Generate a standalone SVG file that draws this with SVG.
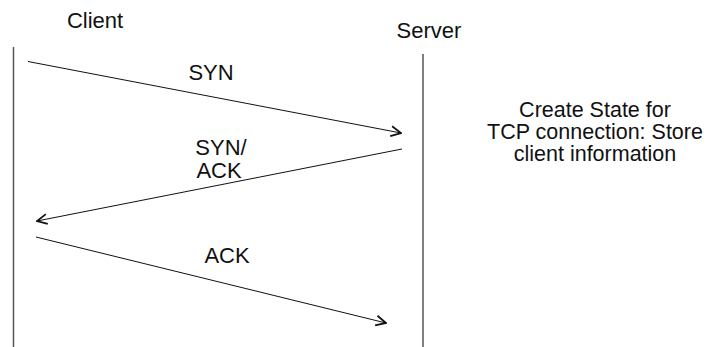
<svg xmlns="http://www.w3.org/2000/svg" width="709" height="347" viewBox="0 0 709 347">
  <style>
    text { font-family: "Liberation Sans", Arial, sans-serif; font-size: 22px; fill: #111; }
    .note { font-size: 21.5px; }
    .life { stroke: #555; stroke-width: 1.5; fill: none; }
    .msg { stroke: #111; stroke-width: 1; fill: none; marker-end: url(#open); }
  </style>
  <defs>
    <marker id="open" viewBox="0 0 12 12" refX="11" refY="6" markerWidth="12" markerHeight="12" markerUnits="userSpaceOnUse" orient="auto">
      <path d="M1,1 L11,6 L1,11" fill="none" stroke="#111" stroke-width="1.8"/>
    </marker>
  </defs>

  <g id="client">
    <text x="95" y="28" text-anchor="middle">Client</text>
    <line class="life" x1="13.5" y1="47" x2="13.5" y2="347"/>
  </g>

  <g id="server">
    <text x="429" y="38" text-anchor="middle">Server</text>
    <line class="life" x1="423" y1="54" x2="423" y2="347"/>
  </g>

  <g id="server-note">
    <text class="note" x="595" y="117" text-anchor="middle">Create State for</text>
    <text class="note" x="595" y="139" text-anchor="middle">TCP connection: Store</text>
    <text class="note" x="595" y="160.5" text-anchor="middle">client information</text>
  </g>

  <g id="connectors">
    <line class="msg" x1="28" y1="61.5" x2="401" y2="133"/>
    <line class="msg" x1="402" y1="149" x2="37" y2="221"/>
    <line class="msg" x1="36" y1="237" x2="386" y2="323"/>
  </g>

  <g id="labels">
    <text x="211" y="80" text-anchor="middle">SYN</text>
    <text x="221" y="155" text-anchor="middle">SYN/</text>
    <text x="219" y="178" text-anchor="middle">ACK</text>
    <text x="227" y="263" text-anchor="middle">ACK</text>
  </g>
</svg>
